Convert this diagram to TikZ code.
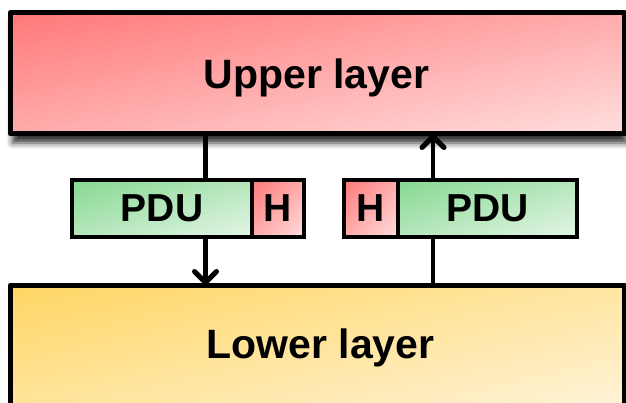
\documentclass[tikz,border=0pt]{standalone}
\usepackage{fontspec}
\setmainfont{Liberation Sans}
\usetikzlibrary{arrows.meta,shadows.blur}
% diagonal gradients: dark at the top left corner, light at the bottom right one
\pgfdeclarefunctionalshading{hdrdiag}{\pgfpoint{-50bp}{-50bp}}{\pgfpoint{50bp}{50bp}}{}{
  sub 50 add 100 div dup 0 lt {pop 0} if dup 1 gt {pop 1} if
  dup 0 mul 1 add exch dup 0.4 mul 0.471 add exch 0.4 mul 0.471 add}
\pgfdeclarefunctionalshading{pdudiag}{\pgfpoint{-50bp}{-50bp}}{\pgfpoint{50bp}{50bp}}{}{
  sub 50 add 100 div dup 0 lt {pop 0} if dup 1 gt {pop 1} if
  dup 0.369 mul 0.525 add exch dup 0.114 mul 0.847 add exch 0.341 mul 0.565 add}
\pgfdeclarefunctionalshading{lowdiag}{\pgfpoint{-50bp}{-50bp}}{\pgfpoint{50bp}{50bp}}{}{
  sub 50 add 100 div dup 0 lt {pop 0} if dup 1 gt {pop 1} if
  dup 0 mul 1 add exch dup 0.122 mul 0.839 add exch 0.486 mul 0.392 add}
\begin{document}
\begin{tikzpicture}[x=1pt, y=-1pt,
  layerbox/.style={draw, line width=5pt, line join=round, inner sep=0pt, outer sep=0pt, anchor=north west, minimum width=614pt},
  layertext/.style={font=\bfseries\fontsize{41}{41}\selectfont, anchor=base},
  pkt/.style={draw, line width=3.5pt, inner sep=0pt, outer sep=0pt, minimum height=57pt, font=\bfseries\fontsize{39}{39}\selectfont},
  pdubox/.style={pkt, shading=pdudiag},
  hdrbox/.style={pkt, shading=hdrdiag},
  flow/.style={line width=4.5pt, -{Straight Barb[length=11pt, width=22pt, line width=5pt, round]}}]
\clip (0,0) rectangle (626,403);

% the two layers
\node[layerbox, minimum height=121.5pt, shading=hdrdiag,
  blur shadow={shadow xshift=2pt, shadow yshift=-9pt, shadow blur radius=6pt, shadow opacity=80}] (upper) at (10.5,12.5) {};
\node[layerbox, minimum height=140pt, shading=lowdiag] (lower) at (10.5,285) {};
\node[layertext] (upperlabel) at (316.5,89) {Upper layer};
\node[layertext] (lowerlabel) at (320.5,358) {Lower layer};

% arrows between the layers
\coordinate (downx) at (205.5,0);
\coordinate (upx) at (433,0);
\draw[flow] (upper.south -| downx) -- (lower.north -| downx);
\draw[flow] (lower.north -| upx) -- (upper.south -| upx);

% packets
\node[pdubox, minimum width=180pt, anchor=north west] (pdu1) at (72,180) {PDU};
\node[hdrbox, minimum width=52pt, anchor=west] (hdr1) at (pdu1.east) {H};
\node[hdrbox, minimum width=54pt, anchor=north west] (hdr2) at (344,180) {H};
\node[pdubox, minimum width=179pt, anchor=west] (pdu2) at (hdr2.east) {PDU};
\end{tikzpicture}
\end{document}
